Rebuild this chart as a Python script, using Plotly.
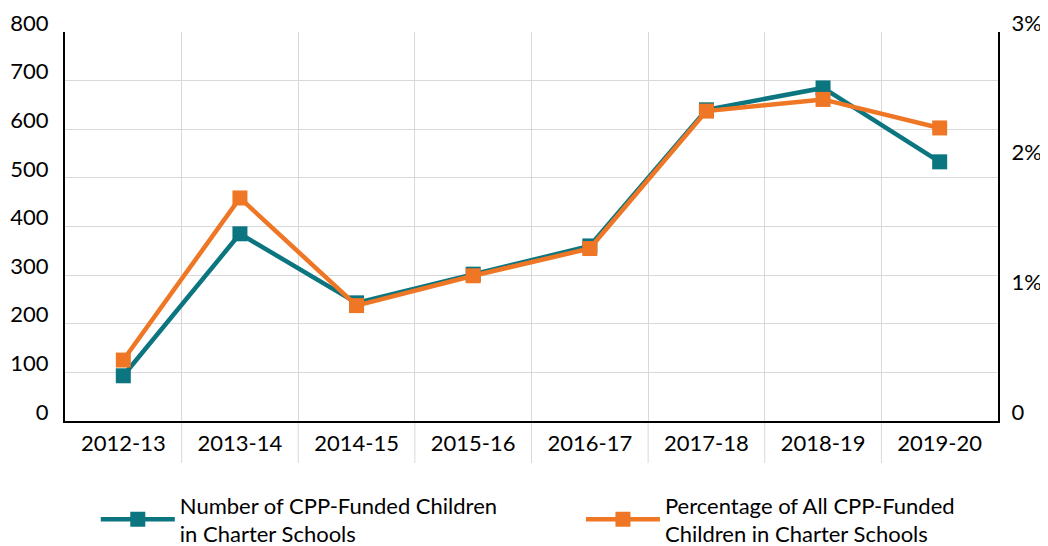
import plotly.graph_objects as go

categories = ["2012-13", "2013-14", "2014-15", "2015-16", "2016-17", "2017-18", "2018-19", "2019-20"]
children_count = [93, 385, 243, 302, 360, 640, 685, 533]
children_pct = [0.47, 1.72, 0.89, 1.12, 1.33, 2.39, 2.48, 2.26]
left_ticks = [0, 100, 200, 300, 400, 500, 600, 700, 800]
right_tickvals = [0, 1, 2, 3]
right_ticktext = ["0", "1%", "2%", "3%"]

TEAL = "#0B7580"
ORANGE = "#EE7624"
FONT = "Lato"

fig = go.Figure()
fig.add_trace(go.Scatter(
    x=categories, y=children_count, mode="lines+markers",
    name="Number of CPP-Funded Children<br>in Charter Schools",
    line=dict(color=TEAL, width=4.5),
    marker=dict(symbol="square", size=15, color=TEAL),
    yaxis="y", legend="legend",
))
fig.add_trace(go.Scatter(
    x=categories, y=children_pct, mode="lines+markers",
    name="Percentage of All CPP-Funded<br>Children in Charter Schools",
    line=dict(color=ORANGE, width=4.5),
    marker=dict(symbol="square", size=15, color=ORANGE),
    yaxis="y2", legend="legend2",
))

# extend category gridlines below the x axis
for i in range(len(categories) - 1):
    fig.add_shape(type="line", xref="x", yref="paper",
                  x0=i + 0.5, x1=i + 0.5, y0=-0.108, y1=0,
                  line=dict(color="#D9D9D9", width=1), layer="below")

legend_common = dict(
    orientation="h", xanchor="left", yanchor="bottom", y=-0.345,
    font=dict(family=FONT, size=22, color="#000000"),
    itemwidth=74, bgcolor="rgba(0,0,0,0)",
)

fig.update_layout(
    width=1040, height=538,
    margin=dict(l=57, r=50, t=24, b=125, autoexpand=False),
    plot_bgcolor="white", paper_bgcolor="white",
    font=dict(family=FONT, size=22, color="#000000"),
    showlegend=True,
    legend=dict(x=0.033, **legend_common),
    legend2=dict(x=0.553, **legend_common),
    xaxis=dict(
        type="category", tickson="boundaries", showgrid=True,
        gridcolor="#D9D9D9", gridwidth=1,
        showline=True, linecolor="#000000", linewidth=2,
        ticks="", ticklabelstandoff=2,
        range=[-0.5, len(categories) - 0.5],
        zeroline=False, automargin=False,
    ),
    yaxis=dict(
        range=[0, 800], tickvals=left_ticks, showgrid=True,
        gridcolor="#D9D9D9", gridwidth=1,
        showline=True, linecolor="#000000", linewidth=2,
        ticks="", ticklabelstandoff=10, ticklabelshift=-9,
        zeroline=False, automargin=False,
    ),
    yaxis2=dict(
        range=[0, 3], tickvals=right_tickvals, ticktext=right_ticktext,
        overlaying="y", side="right", showgrid=False,
        showline=True, linecolor="#000000", linewidth=2,
        ticks="", ticklabelstandoff=7, ticklabelshift=-9,
        zeroline=False, automargin=False,
    ),
)

fig.write_html("out.html")
